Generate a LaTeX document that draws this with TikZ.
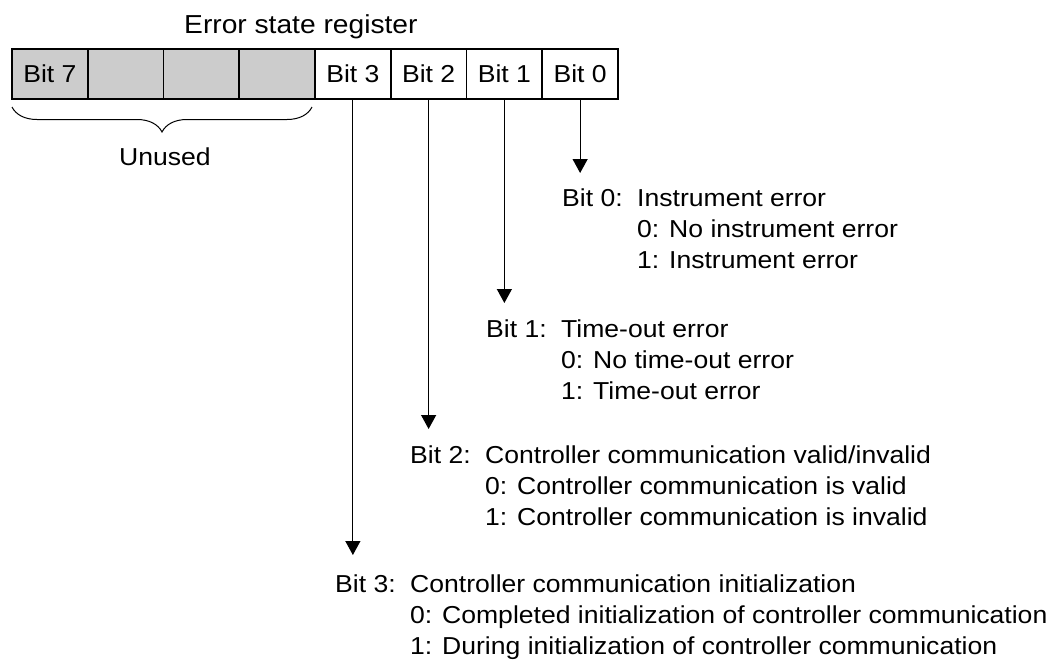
\documentclass[tikz,border=0pt]{standalone}
\usepackage{fontspec}
\setmainfont{Liberation Sans}[FakeStretch=1.084]
\usetikzlibrary{positioning,arrows.meta,decorations.pathreplacing}

\def\cellwd{75.75pt}
\def\cellht{50pt}

\tikzset{
  bitcell/.style={draw, line width=1.6pt, minimum width=\cellwd, minimum height=\cellht,
    inner sep=0pt, outer sep=0pt},
  unusedcell/.style={bitcell, fill=gray!40},
  bitarrow/.style={line width=1.2pt, -{Triangle[width=15pt,length=14pt]}},
  bitdesc/.style={anchor=base west, inner sep=0pt},
}

\begin{document}
\begin{tikzpicture}[x=1pt, y=-1pt, font=\fontsize{24.5}{31}\selectfont]
        \useasboundingbox (0,0) rectangle (1055,659);
        % title
        \node[anchor=base west, inner sep=0pt, font=\fontsize{26}{31}\selectfont] (title) at (184,33) {Error state register};
        % register cells
        \node[unusedcell, anchor=north west] (b7) at (12,49) {Bit 7};
        \node[unusedcell, right=0pt of b7] (b6) {};
        \node[unusedcell, right=0pt of b6] (b5) {};
        \node[unusedcell, right=0pt of b5] (b4) {};
        \node[bitcell, right=0pt of b4] (b3) {Bit 3};
        \node[bitcell, right=0pt of b3] (b2) {Bit 2};
        \node[bitcell, right=0pt of b2] (b1) {Bit 1};
        \node[bitcell, right=0pt of b1] (b0) {Bit 0};
        % unused bits
        \coordinate (ul) at (12,107);
        \coordinate (ur) at (312,107);
        \draw[line width=1pt, decorate, decoration={brace, mirror, amplitude=25pt}] (ul) -- (ur);
        \node[anchor=base, inner sep=0pt] (unused) at (165,165) {Unused};
        % arrow tips
        \coordinate (t0) at (b0.south |- 0,173);
        \coordinate (t1) at (b1.south |- 0,303);
        \coordinate (t2) at (b2.south |- 0,429);
        \coordinate (t3) at (b3.south |- 0,555);
        \draw[bitarrow] (b0.south) -- (t0);
        \draw[bitarrow] (b1.south) -- (t1);
        \draw[bitarrow] (b2.south) -- (t2);
        \draw[bitarrow] (b3.south) -- (t3);
        % bit descriptions
        \node[bitdesc] (d0) at (562,206) {\begin{tabular}[t]{@{}p{75pt}@{}l@{}}
          Bit 0: & Instrument error\\
          & 0: No instrument error\\
          & 1: Instrument error\end{tabular}};
        \node[bitdesc] (d1) at (486,337) {\begin{tabular}[t]{@{}p{75pt}@{}l@{}}
          Bit 1: & Time-out error\\
          & 0: No time-out error\\
          & 1: Time-out error\end{tabular}};
        \node[bitdesc] (d2) at (410,463) {\begin{tabular}[t]{@{}p{75pt}@{}l@{}}
          Bit 2: & Controller communication valid/invalid\\
          & 0: Controller communication is valid\\
          & 1: Controller communication is invalid\end{tabular}};
        \node[bitdesc] (d3) at (335,592) {\begin{tabular}[t]{@{}p{75pt}@{}l@{}}
          Bit 3: & Controller communication initialization\\
          & 0: Completed initialization of controller communication\\
          & 1: During initialization of controller communication\end{tabular}};
    \end{tikzpicture}
\end{document}
